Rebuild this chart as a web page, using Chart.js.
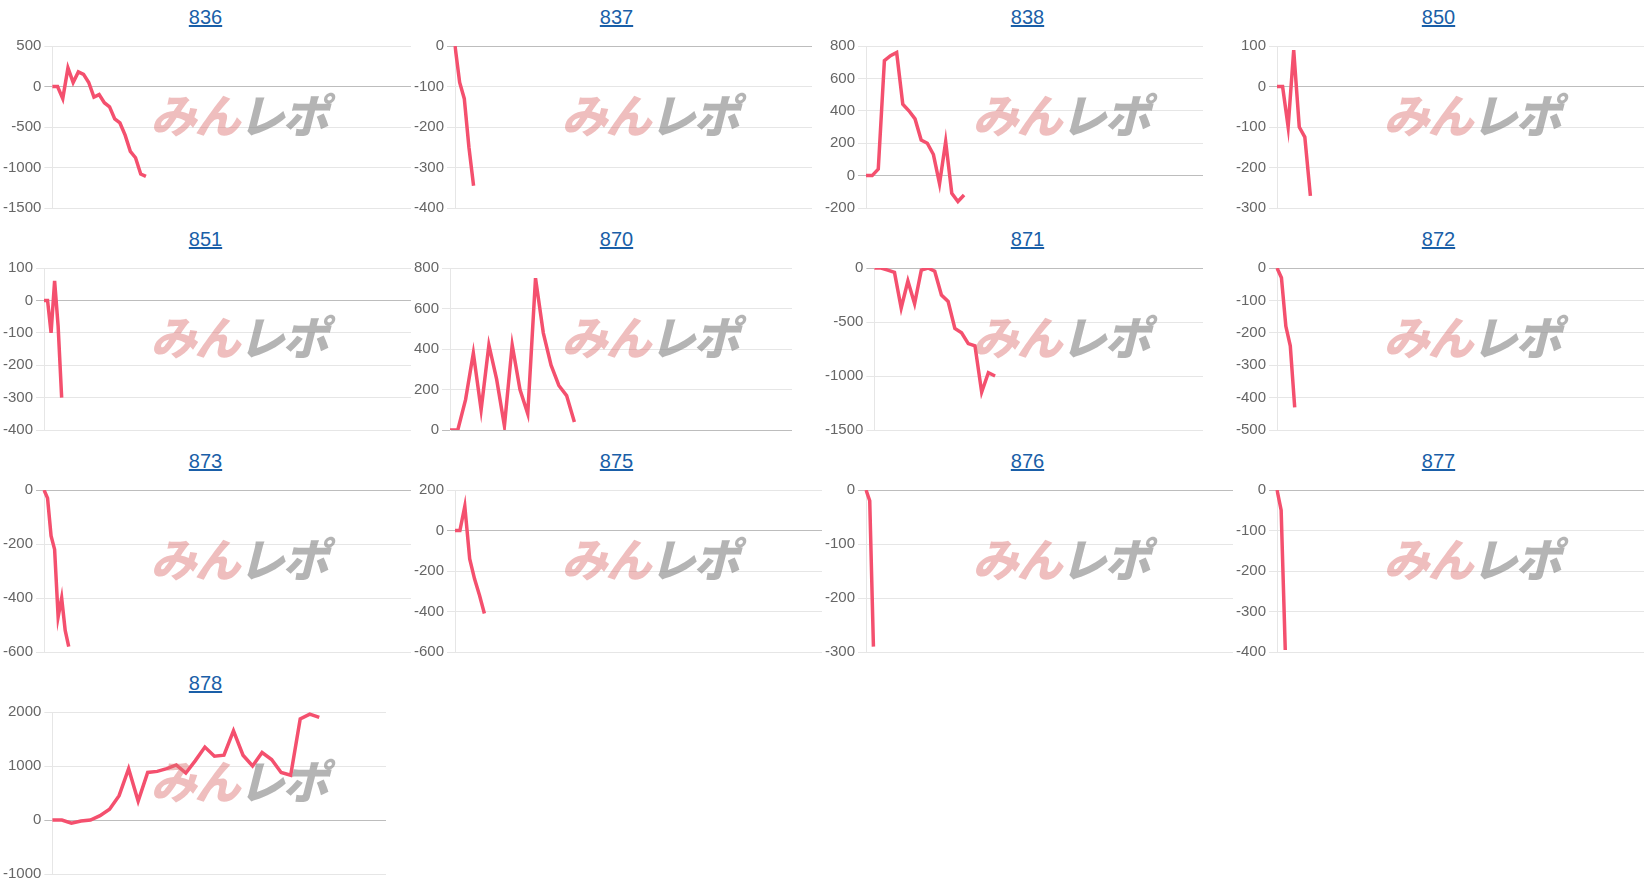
<!DOCTYPE html>
<html>
<head>
<meta charset="utf-8">
<script src="https://cdn.jsdelivr.net/npm/chart.js@4"></script>
<style>
  body { margin: 0; background: #fff; font-family: Arial, "Liberation Sans", sans-serif; }
  #grid { display: grid; grid-template-columns: repeat(4, 411px); grid-auto-rows: 222px; }
  .panel { position: relative; }
  .panel a { display: block; text-align: center; color: #1a5fa8; font-size: 20px; line-height: 34px; height: 34px; text-decoration: underline; }
  .canvas-box { position: relative; height: 186px; }
  .mark { position: absolute; left: 58%; top: 46px; transform: translateX(-50%); font: italic 900 46px "Noto Sans CJK JP", sans-serif; white-space: nowrap; letter-spacing: -2px; pointer-events: none; }
  .mark .a { color: rgba(220, 110, 110, 0.45); }
  .mark .b { color: rgba(130, 130, 130, 0.6); }
</style>
</head>
<body>
<div id="grid"></div>
<script>
// machine numbers (chart titles)
const machines = ["836", "837", "838", "850", "851", "870", "871", "872", "873", "875", "876", "877", "878"];

// number of x slots per chart
const slotCounts = [70, 78, 56, 67, 105, 45, 50, 84, 105, 76, 100, 90, 36];

// y axis bounds and step
const yMins = [-1500, -400, -200, -300, -400, 0, -1500, -500, -600, -600, -300, -400, -1000];
const yMaxs = [500, 0, 800, 100, 100, 800, 0, 0, 0, 200, 0, 0, 2000];
const ySteps = [500, 100, 200, 100, 100, 200, 500, 100, 200, 200, 100, 100, 1000];

// series values (difference)
const s836 = [0, 0, -150, 230, 50, 180, 150, 50, -130, -100, -200, -250, -400, -450, -600, -800, -880, -1080, -1110];
const s837 = [0, -90, -130, -250, -345];
const s838 = [0, 0, 40, 710, 740, 760, 440, 400, 350, 220, 200, 130, -50, 210, -110, -160, -120];
const s850 = [0, 0, -100, 90, -100, -125, -270];
const s851 = [0, 0, -100, 60, -80, -300];
const s870 = [0, 0, 150, 380, 100, 420, 250, 20, 420, 200, 80, 750, 480, 320, 220, 170, 40];
const s871 = [0, 0, -20, -40, -370, -120, -330, -20, 0, -30, -250, -310, -560, -600, -700, -720, -1150, -970, -1000];
const s872 = [0, -30, -180, -240, -430];
const s873 = [0, -30, -170, -220, -470, -400, -520, -580];
const s875 = [0, 0, 120, -140, -240, -320, -410];
const s876 = [0, -20, -290];
const s877 = [0, -50, -395];
const s878 = [0, 0, -60, -20, 0, 80, 200, 450, 950, 350, 880, 900, 950, 1020, 870, 1100, 1350, 1180, 1200, 1650, 1200, 1000, 1250, 1120, 880, 830, 1870, 1960, 1900];

const allSeries = [s836, s837, s838, s850, s851, s870, s871, s872, s873, s875, s876, s877, s878];

// extra right padding where the plot area ends early
const rightPads = [0, 10, 30, 0, 0, 30, 30, 0, 0, 0, 0, 0, 25];

const grid = document.getElementById("grid");

machines.forEach((name, i) => {
  const panel = document.createElement("div");
  panel.className = "panel";
  panel.innerHTML = `<a href="#">${name}</a><div class="canvas-box"><canvas></canvas>` +
    `<div class="mark"><span class="a">みん</span><span class="b">レポ</span></div></div>`;
  grid.appendChild(panel);

  const labels = [];
  for (let d = 1; d <= slotCounts[i]; d++) labels.push(String(d));

  new Chart(panel.querySelector("canvas"), {
    type: "line",
    data: {
      labels: labels,
      datasets: [{
        data: allSeries[i],
        borderColor: "#f4506e",
        borderWidth: 3.5,
        pointRadius: 0,
        tension: 0,
        fill: false,
      }],
    },
    options: {
      maintainAspectRatio: false,
      animation: false,
      layout: { padding: { right: rightPads[i], top: 4 } },
      plugins: { legend: { display: false }, tooltip: { enabled: false } },
      scales: {
        x: {
          ticks: { display: false },
          grid: { display: false },
          border: { display: false },
        },
        y: {
          min: yMins[i],
          max: yMaxs[i],
          ticks: {
            stepSize: ySteps[i],
            color: "#666",
            font: { size: 15 },
            callback: (v) => String(v),
          },
          grid: {
            color: (ctx) => (ctx.tick && ctx.tick.value === 0 ? "#bdbdbd" : "#e6e6e6"),
            tickLength: 8,
          },
          border: { display: true, color: "#e6e6e6" },
        },
      },
    },
  });
});
</script>
</body>
</html>
